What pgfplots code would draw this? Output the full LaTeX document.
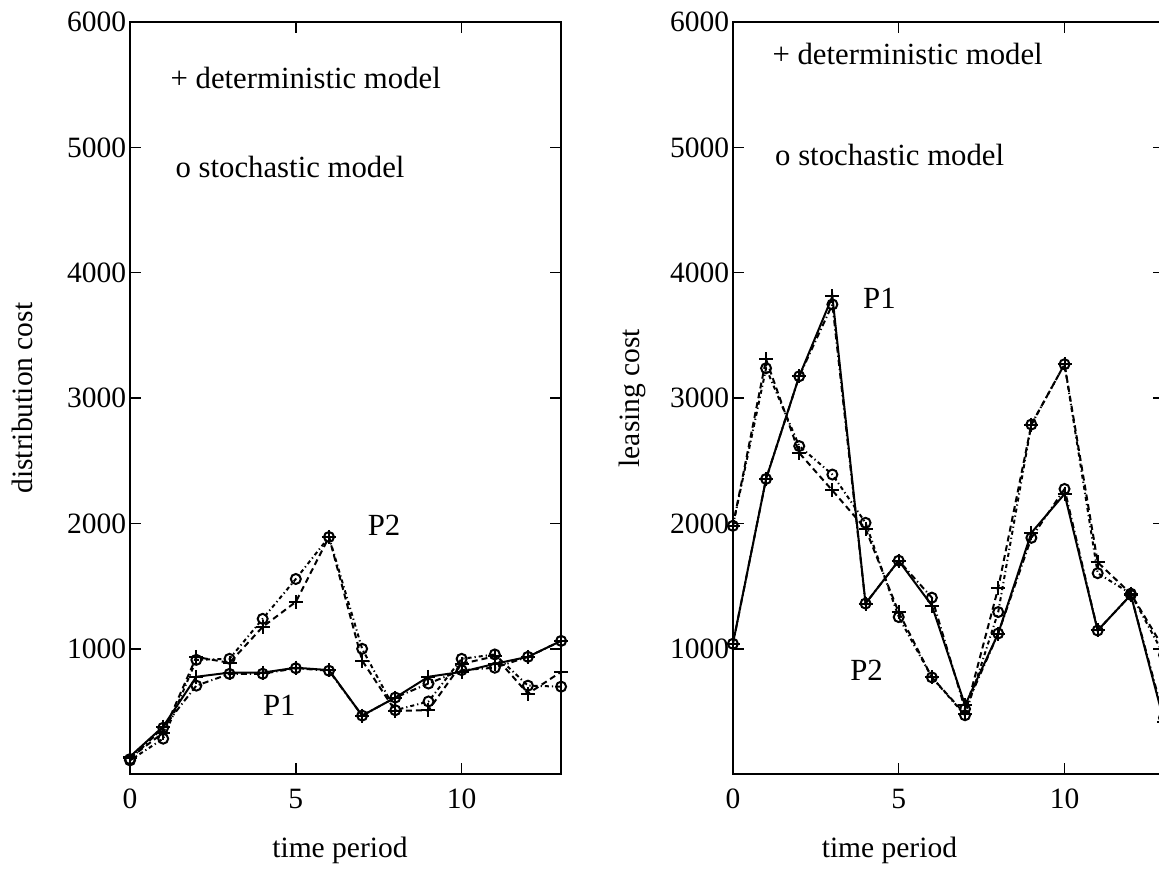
\documentclass[border=0pt]{standalone}
\usepackage{fontspec}
\setmainfont{Liberation Serif}
\usepackage{pgfplots}
\usepackage{pgfplotstable}
\pgfplotsset{compat=1.18}

% t, P1 deterministic, P1 stochastic, P2 deterministic, P2 stochastic
\pgfplotstableread{
t  p1d   p1s   p2d   p2s
0  140   120   130   110
1  380   370   330   283
2  777   706   935   912
3  810   800   888   920
4  810   801   1175  1239
5  849   845   1374  1557
6  830   825   1892  1892
7  467   467   906   1000
8  611   611   505   510
9  777   723   510   580
10 816   830   880   920
11 880   849   940   955
12 936   936   642   706
13 1063  1063  816   698
}\distcost

\pgfplotstableread{
t  p1d   p1s   p2d   p2s
0  1040  1040  1981  1981
1  2355  2355  3310  3238
2  3174  3174  2562  2617
3  3811  3747  2263  2390
4  1361  1361  1957  2005
5  1703  1703  1291  1253
6  1345  1408  772   772
7  550   520   480   470
8  1122  1122  1484  1293
9  1925  1885  2789  2789
10 2235  2275  3270  3270
11 1146  1146  1690  1603
12 1430  1430  1440  1440
13 420   450   1000  950
}\leasecost

\pgfplotsset{
  panel/.style={
    scale only axis, width=172.4pt, height=300.8pt,
    xmin=0, xmax=13, ymin=0, ymax=6000,
    xtick={0,5,10}, ytick={1000,2000,...,6000},
    tick align=inside, major tick length=4.4pt,
    axis line style={line width=0.7pt},
    every tick/.style={black, line width=0.6pt},
    tick label style={font=\fontsize{11.8}{13}\selectfont},
    label style={font=\fontsize{11.8}{13}\selectfont},
    /pgf/number format/assume math mode=true,
    /pgf/number format/1000 sep={},
    scaled y ticks=false,
    xticklabel style={yshift=-2.5pt},
    yticklabel style={xshift=2pt},
  },
  det1/.style={black, line width=0.8pt, solid, mark=+, mark size=2.8pt, mark options={solid, line width=0.8pt}},
  sto1/.style={black, line width=0.8pt, dash pattern=on 2.4pt off 1.2pt on 0.5pt off 1.2pt, mark=o, mark size=2pt, mark options={solid, line width=0.8pt}},
  det2/.style={black, line width=0.8pt, dash pattern=on 2.4pt off 1.6pt, mark=+, mark size=2.8pt, mark options={solid, line width=0.8pt}},
  sto2/.style={black, line width=0.8pt, dash pattern=on 1.6pt off 1.2pt on 0.5pt off 1.2pt, mark=o, mark size=2pt, mark options={solid, line width=0.8pt}},
}
\tikzset{note/.style={inner sep=0pt, font=\fontsize{12.3}{14}\selectfont}}

\begin{document}
\begin{tikzpicture}
\begin{axis}[panel, at={(0pt,0pt)}, anchor=south west,
  xlabel={time period}, ylabel={distribution cost},
  xlabel style={at={(axis description cs:0.487,-0.101)}, anchor=center},
  ylabel style={at={(axis description cs:-0.2506,0.5)}, anchor=center}]
\addplot[det1] table[x=t, y=p1d] {\distcost};
\addplot[sto1] table[x=t, y=p1s] {\distcost};
\addplot[det2] table[x=t, y=p2d] {\distcost};
\addplot[sto2] table[x=t, y=p2s] {\distcost};
\node[note, anchor=west] at (axis cs:1.21,5554) {+ deterministic model};
\node[note, anchor=west] at (axis cs:1.36,4845) {o stochastic model};
\node[note] at (axis cs:7.66,1987) {P2};
\node[note] at (axis cs:4.50,546) {P1};
\end{axis}

\begin{axis}[panel, at={(241.1pt,0pt)}, anchor=south west,
  xlabel={time period}, ylabel={leasing cost},
  xlabel style={at={(axis description cs:0.363,-0.101)}, anchor=center},
  ylabel style={at={(axis description cs:-0.2326,0.5)}, anchor=center}]
\addplot[det1] table[x=t, y=p1d] {\leasecost};
\addplot[sto1] table[x=t, y=p1s] {\leasecost};
\addplot[det2] table[x=t, y=p2d] {\leasecost};
\addplot[sto2] table[x=t, y=p2s] {\leasecost};
\node[note, anchor=west] at (axis cs:1.18,5744) {+ deterministic model};
\node[note, anchor=west] at (axis cs:1.26,4940) {o stochastic model};
\node[note] at (axis cs:4.42,3795) {P1};
\node[note] at (axis cs:4.03,827) {P2};
\end{axis}

\pgfresetboundingbox
\useasboundingbox (-52pt,-42.8pt) rectangle (411.5pt,309.6pt);
\end{tikzpicture}
\end{document}
